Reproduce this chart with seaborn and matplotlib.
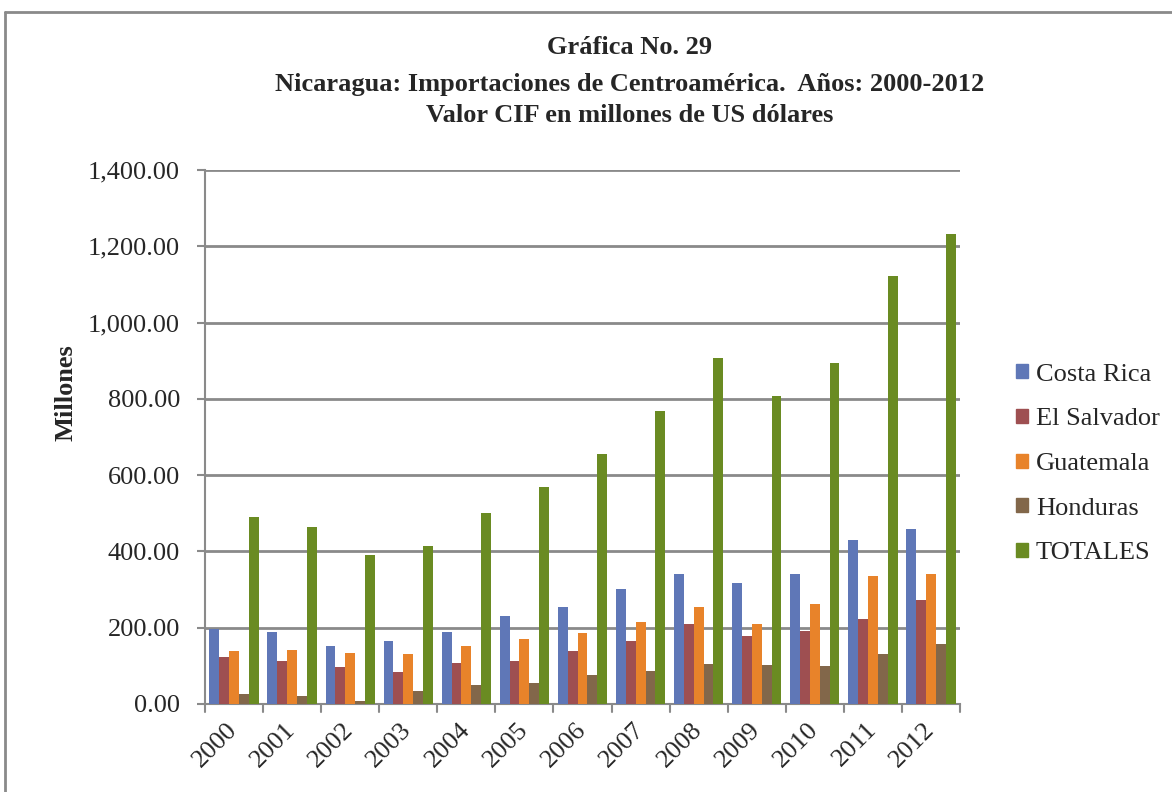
"""Nicaragua: imports from Central America, 2000-2012 (CIF value, US$ millions)."""

import matplotlib.pyplot as plt
import matplotlib.ticker as mticker
from matplotlib.lines import Line2D
import pandas as pd
import seaborn as sns

years = [str(y) for y in range(2000, 2013)]
countries = ["Costa Rica", "El Salvador", "Guatemala", "Honduras", "TOTALES"]

costa_rica = [197, 188, 151, 164, 188, 231, 254, 302, 342, 316, 342, 430, 460]
el_salvador = [122, 112, 96, 84, 108, 113, 138, 165, 209, 178, 191, 224, 272]
guatemala = [140, 142, 135, 132, 151, 170, 187, 215, 253, 210, 261, 335, 340]
honduras = [27, 22, 8, 33, 50, 54, 75, 86, 104, 101, 99, 130, 158]
totales = [490, 465, 391, 413, 500, 570, 655, 769, 907, 808, 894, 1123, 1232]

title_lines = [
    "Gráfica No. 29",
    "Nicaragua: Importaciones de Centroamérica.  Años: 2000-2012",
    "Valor CIF en millones de US dólares",
]

colors = ["#5f77b7", "#9e4f51", "#e8832a", "#82674a", "#6a8b22"]
GRID = "#8a8a8a"
SERIF = ["Liberation Serif", "DejaVu Serif"]
W, H = 1172, 792

series = [costa_rica, el_salvador, guatemala, honduras, totales]
df = pd.DataFrame(
    [(yr, name, vals[i]) for name, vals in zip(countries, series) for i, yr in enumerate(years)],
    columns=["Año", "País", "Valor"],
)

sns.set_style("white")
plt.rcParams["font.family"] = SERIF

fig = plt.figure(figsize=(W / 100, H / 100), dpi=100)
ax = fig.add_axes([205 / W, 1 - 704 / H, (960 - 205) / W, (704 - 170) / H])

sns.barplot(data=df, x="Año", y="Valor", hue="País", hue_order=countries,
            palette=colors, width=0.85, saturation=1, edgecolor="none",
            legend=False, ax=ax, zorder=3)

ax.set_ylim(0, 1400)
ax.set_xlim(-0.5, len(years) - 0.5)
ax.yaxis.set_major_locator(mticker.MultipleLocator(200))
ax.yaxis.set_major_formatter(mticker.FuncFormatter(lambda v, _: f"{v:,.2f}"))
ax.grid(axis="y", color=GRID, linewidth=2, zorder=0)
ax.set_axisbelow(True)

for side in ["top", "right"]:
    ax.spines[side].set_visible(False)
for side in ["left", "bottom"]:
    ax.spines[side].set_color(GRID)
    ax.spines[side].set_linewidth(1.5)

ax.tick_params(axis="y", labelsize=19, length=6, color=GRID, width=1.5,
               direction="out", left=True, pad=12)
ax.set_xticks(range(len(years)))
ax.set_xticklabels(years, rotation=45, ha="right", va="center",
                   rotation_mode="anchor", fontsize=19)
ax.tick_params(axis="x", length=0, pad=16)
for i in range(len(years) + 1):
    ax.plot([i - 0.5, i - 0.5], [0, -20], color=GRID, lw=1.5, clip_on=False)

ax.set_xlabel("")
ax.set_ylabel("")
fig.text(66 / W, 1 - 393 / H, "Millones", rotation=90, ha="center", va="center",
         fontsize=19, fontweight="bold")

for line, ypix in zip(title_lines, [48, 85, 116]):
    fig.text(630 / W, 1 - ypix / H, line, ha="center", va="center",
             fontsize=19, fontweight="bold")

handles = [plt.Rectangle((0, 0), 1, 1, color=c) for c in colors]
fig.legend(handles, countries, loc="center left", bbox_to_anchor=(1016 / W, 1 - 464 / H),
           frameon=False, fontsize=19, handlelength=0.45, handleheight=0.45,
           handletextpad=0.3, labelspacing=0.86, borderaxespad=0, borderpad=0)

# outer chart frame (extends past the image edge)
fig.add_artist(Line2D([5 / W, 1], [1 - 12 / H] * 2, color=GRID, lw=2, transform=fig.transFigure))
fig.add_artist(Line2D([5 / W] * 2, [0, 1 - 12 / H], color=GRID, lw=2, transform=fig.transFigure))

fig.savefig("out.png", dpi=100)
